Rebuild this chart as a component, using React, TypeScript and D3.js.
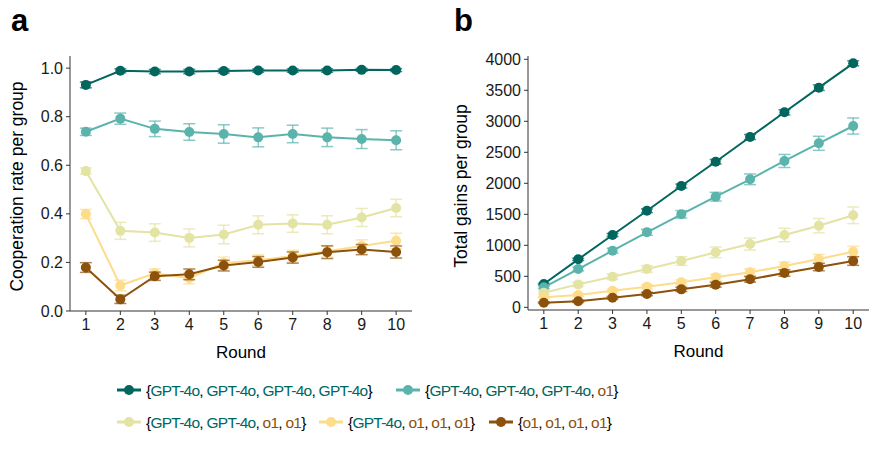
import * as d3 from "d3";

const rounds = [1, 2, 3, 4, 5, 6, 7, 8, 9, 10];

const groupNames = [
  ["GPT-4o", "GPT-4o", "GPT-4o", "GPT-4o"],
  ["GPT-4o", "GPT-4o", "GPT-4o", "o1"],
  ["GPT-4o", "GPT-4o", "o1", "o1"],
  ["GPT-4o", "o1", "o1", "o1"],
  ["o1", "o1", "o1", "o1"],
];
const colors = ["#01665e", "#5ab4ac", "#e3e3a3", "#fddc8a", "#8c510a"];

// panel a: cooperation rate per group (mean, error)
const coopMean = [
  [0.931, 0.989, 0.986, 0.986, 0.988, 0.99, 0.99, 0.99, 0.993, 0.992],
  [0.738, 0.792, 0.75, 0.737, 0.729, 0.715, 0.729, 0.715, 0.708, 0.703],
  [0.576, 0.33, 0.323, 0.301, 0.315, 0.355, 0.36, 0.355, 0.385, 0.424],
  [0.399, 0.105, 0.155, 0.135, 0.198, 0.209, 0.226, 0.246, 0.268, 0.289],
  [0.179, 0.048, 0.143, 0.151, 0.187, 0.202, 0.22, 0.242, 0.253, 0.243],
];
const coopErr = [
  [0.012, 0.008, 0.009, 0.009, 0.008, 0.007, 0.007, 0.007, 0.006, 0.006],
  [0.015, 0.023, 0.032, 0.034, 0.038, 0.039, 0.036, 0.038, 0.039, 0.039],
  [0.013, 0.035, 0.036, 0.037, 0.038, 0.037, 0.036, 0.037, 0.037, 0.036],
  [0.019, 0.022, 0.018, 0.023, 0.024, 0.022, 0.024, 0.024, 0.025, 0.031],
  [0.02, 0.017, 0.017, 0.022, 0.022, 0.022, 0.023, 0.026, 0.021, 0.025],
];

// panel b: total gains per group (mean, error)
const gainMean = [
  [376, 774, 1166, 1558, 1956, 2348, 2747, 3145, 3542, 3935],
  [322, 618, 913, 1210, 1500, 1784, 2065, 2360, 2645, 2924],
  [236, 370, 494, 618, 747, 887, 1021, 1166, 1316, 1484],
  [161, 198, 268, 332, 403, 484, 565, 666, 779, 897],
  [74, 97, 155, 215, 290, 365, 452, 553, 650, 747],
];
const gainErr = [
  [12, 18, 25, 30, 32, 36, 40, 42, 45, 40],
  [20, 30, 40, 48, 60, 70, 86, 105, 113, 130],
  [25, 35, 45, 55, 70, 86, 97, 108, 116, 134],
  [15, 22, 28, 35, 40, 48, 55, 65, 75, 86],
  [12, 18, 22, 28, 35, 40, 45, 52, 60, 70],
];

const coopTicks = [0, 0.2, 0.4, 0.6, 0.8, 1.0];
const gainTicks = [0, 500, 1000, 1500, 2000, 2500, 3000, 3500, 4000];

const FONT = "'Liberation Sans', Arial, Helvetica, sans-serif";

type PanelProps = {
  left: number;
  right: number;
  top: number;
  bottom: number;
  yDomain: [number, number];
  yTicks: number[];
  yFmt: (v: number) => string;
  means: number[][];
  errs: number[][];
  yLabel: string;
  yLabelX: number;
  letter: string;
  letterX: number;
};

function Panel(p: PanelProps) {
  const x = d3.scaleLinear().domain([0.54, 10.46]).range([p.left, p.right]);
  const y = d3.scaleLinear().domain(p.yDomain).range([p.bottom, p.top]);
  const line = d3
    .line<number>()
    .x((_, i) => x(rounds[i]))
    .y((d) => y(d));
  const cap = 6;

  return (
    <g fontFamily={FONT}>
      <text x={p.letterX} y={31} fontSize={31} fontWeight="bold" fill="#000">
        {p.letter}
      </text>
      {/* spines */}
      <line x1={p.left} x2={p.left} y1={p.top} y2={p.bottom} stroke="#333" strokeWidth={1} />
      <line x1={p.left} x2={p.right} y1={p.bottom} y2={p.bottom} stroke="#333" strokeWidth={1} />
      {p.yTicks.map((t) => (
        <g key={`y-${t}`}>
          <line x1={p.left - 4} x2={p.left} y1={y(t)} y2={y(t)} stroke="#333" />
          <text x={p.left - 7} y={y(t) + 5.5} fontSize={16} textAnchor="end" fill="#1a1a1a">
            {p.yFmt(t)}
          </text>
        </g>
      ))}
      {rounds.map((r) => (
        <g key={`x-${r}`}>
          <line x1={x(r)} x2={x(r)} y1={p.bottom} y2={p.bottom + 4} stroke="#333" />
          <text x={x(r)} y={p.bottom + 19} fontSize={16} textAnchor="middle" fill="#1a1a1a">
            {r}
          </text>
        </g>
      ))}
      <text x={(p.left + p.right) / 2} y={p.bottom + 47} fontSize={17} textAnchor="middle" fill="#000">
        Round
      </text>
      <text
        transform={`translate(${p.yLabelX},${(p.top + p.bottom) / 2 + 3}) rotate(-90)`}
        fontSize={17.5}
        textAnchor="middle"
        fill="#000"
      >
        {p.yLabel}
      </text>
      {p.means.map((m, si) => (
        <g key={`s-${si}`}>
          {m.map((v, i) => {
            const e = p.errs[si][i];
            const cx = x(rounds[i]);
            return (
              <g key={i} stroke={colors[si]} strokeOpacity={0.7} strokeWidth={1.5}>
                <line x1={cx} x2={cx} y1={y(v - e)} y2={y(v + e)} />
                <line x1={cx - cap} x2={cx + cap} y1={y(v - e)} y2={y(v - e)} />
                <line x1={cx - cap} x2={cx + cap} y1={y(v + e)} y2={y(v + e)} />
              </g>
            );
          })}
          <path d={line(m) ?? ""} fill="none" stroke={colors[si]} strokeWidth={2} />
          {m.map((v, i) => (
            <circle key={`c-${i}`} cx={x(rounds[i])} cy={y(v)} r={5} fill={colors[si]} />
          ))}
        </g>
      ))}
    </g>
  );
}

function LegendLabel({ names, x, y }: { names: string[]; x: number; y: number }) {
  const parts: JSX.Element[] = [<tspan key="o" fill="#000">{"{"}</tspan>];
  names.forEach((n, i) => {
    parts.push(
      <tspan key={`n${i}`} fill={n === "o1" ? colors[4] : colors[0]}>
        {n}
      </tspan>,
    );
    if (i < names.length - 1) parts.push(<tspan key={`c${i}`} fill="#000">{", "}</tspan>);
  });
  parts.push(<tspan key="e" fill="#000">{"}"}</tspan>);
  return (
    <text x={x} y={y} fontSize={15.5} letterSpacing={-0.75} fontFamily={FONT}>
      {parts}
    </text>
  );
}

const legendPos = [
  { x: 117, y: 396 },
  { x: 396, y: 396 },
  { x: 117, y: 428 },
  { x: 319, y: 428 },
  { x: 489, y: 428 },
];

export default function App() {
  return (
    <div style={{ position: "absolute", left: 0, top: 0, background: "#fff" }}>
      <svg width={887} height={452} style={{ display: "block" }}>
        <rect width={887} height={452} fill="#fff" />
        <Panel
          left={70}
          right={412}
          top={56}
          bottom={311}
          yDomain={[0, 1.05]}
          yTicks={coopTicks}
          yFmt={(v) => v.toFixed(1)}
          means={coopMean}
          errs={coopErr}
          yLabel="Cooperation rate per group"
          yLabelX={23}
          letter="a"
          letterX={11}
        />
        <Panel
          left={528}
          right={869}
          top={56}
          bottom={310}
          yDomain={[-43, 4053]}
          yTicks={gainTicks}
          yFmt={(v) => String(v)}
          means={gainMean}
          errs={gainErr}
          yLabel="Total gains per group"
          yLabelX={467}
          letter="b"
          letterX={454}
        />
        {legendPos.map((lp, i) => (
          <g key={`lg-${i}`}>
            <line x1={lp.x} x2={lp.x + 24} y1={lp.y - 6} y2={lp.y - 6} stroke={colors[i]} strokeWidth={3} />
            <circle cx={lp.x + 12} cy={lp.y - 6} r={5} fill={colors[i]} />
            <LegendLabel names={groupNames[i]} x={lp.x + 29} y={lp.y} />
          </g>
        ))}
      </svg>
    </div>
  );
}
